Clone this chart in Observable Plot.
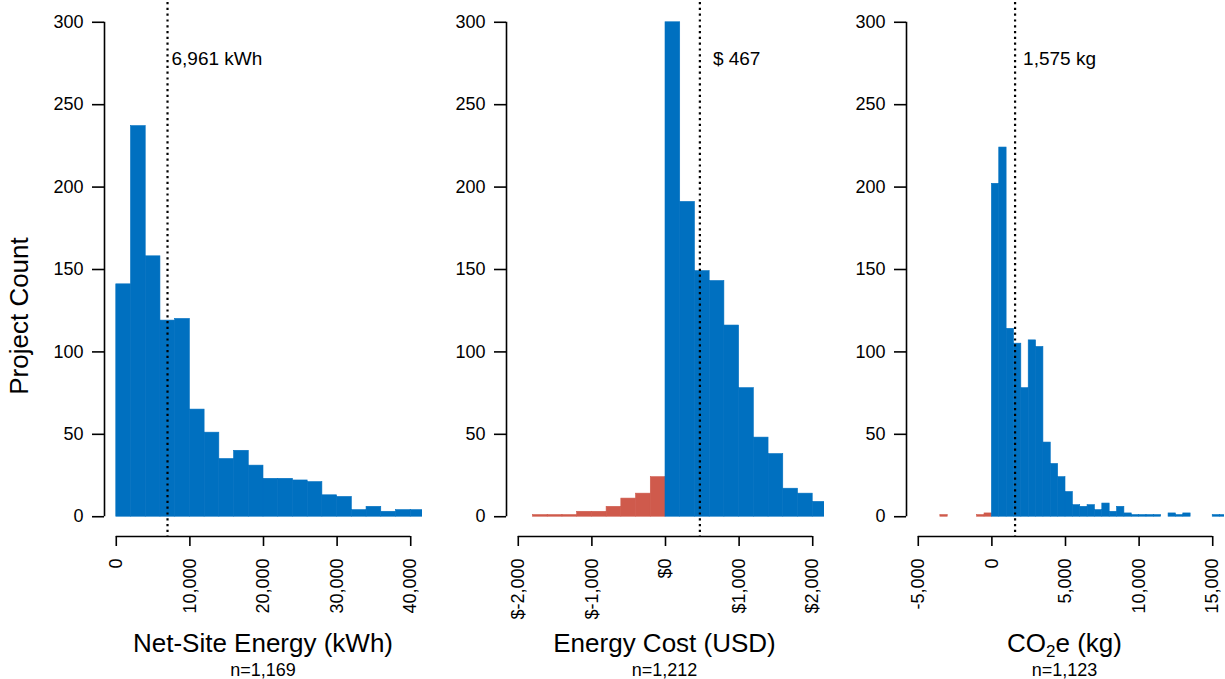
<!DOCTYPE html>
<html>
<head>
<meta charset="utf-8">
<script src="https://cdn.jsdelivr.net/npm/d3@7"></script>
<script src="https://cdn.jsdelivr.net/npm/@observablehq/plot@0.6"></script>
<style>
  html, body { margin: 0; padding: 0; background: #fff; }
  body { font-family: "Liberation Sans", Arial, sans-serif; color: #000; }
  #wrap { position: relative; width: 1225px; height: 679px; overflow: hidden; }
  .panel { position: absolute; top: 0; }
  .panel svg { overflow: visible; }
  .xt { position: absolute; width: 318px; text-align: center; font-size: 26px; line-height: 26px; white-space: nowrap; }
  .nt { position: absolute; width: 318px; text-align: center; font-size: 18px; line-height: 18px; white-space: nowrap; }
  .xt sub { font-size: 17px; vertical-align: -5px; line-height: 0; }
  #ylab { position: absolute; left: 19px; top: 316px; font-size: 26px; line-height: 26px; white-space: nowrap;
          transform: translate(-50%, -50%) rotate(-90deg); }
</style>
</head>
<body>
<div id="wrap"></div>
<script>
// ---------- data ----------
const yTicks = [0, 50, 100, 150, 200, 250, 300];
const yLim = [0, 300];

// Panel 1: Net-Site Energy (kWh), bins of 2,000
const energyBinStarts = [0, 2000, 4000, 6000, 8000, 10000, 12000, 14000, 16000, 18000, 20000,
                         22000, 24000, 26000, 28000, 30000, 32000, 34000, 36000, 38000, 40000];
const energyCounts    = [141, 237, 158, 119, 120, 65, 51, 35, 40, 31, 23,
                         23, 22, 21, 13, 12, 4, 6, 3, 4, 4];
const energyBinWidth = 2000;
const energyTicks = [0, 10000, 20000, 30000, 40000];
const energyLim = [0, 40000];
const energyMean = 6961;
const energyMeanLabel = "6,961 kWh";

// Panel 2: Energy Cost (USD), bins of $200
const costBinStarts = [-1800, -1600, -1400, -1200, -1000, -800, -600, -400, -200,
                       0, 200, 400, 600, 800, 1000, 1200, 1400, 1600, 1800, 2000];
const costCounts    = [1, 1, 1, 3, 3, 6, 11, 14, 24,
                       300, 191, 149, 143, 116, 78, 48, 38, 17, 14, 9];
const costBinWidth = 200;
const costTicks = [-2000, -1000, 0, 1000, 2000];
const costLim = [-2000, 2000];
const costMean = 467;
const costMeanLabel = "$ 467";

// Panel 3: CO2e (kg), bins of 500
const co2BinStarts = [-3500, -1000, -500,
                      0, 500, 1000, 1500, 2000, 2500, 3000, 3500, 4000, 4500, 5000, 5500, 6000, 6500,
                      7000, 7500, 8000, 8500, 9000, 9500, 10000, 10500, 11000, 12000, 12500, 13000, 15000, 15500];
const co2Counts    = [1, 1, 2,
                      202, 224, 114, 105, 78, 107, 103, 45, 32, 24, 15, 7, 6, 7,
                      4, 8, 3, 6, 2, 1, 1, 1, 1, 2, 1, 2, 1, 1];
const co2BinWidth = 500;
const co2Ticks = [-5000, 0, 5000, 10000, 15000];
const co2Lim = [-5000, 15000];
const co2Mean = 1575;
const co2MeanLabel = "1,575 kg";

const panelTitles = ["Net-Site Energy (kWh)", "Energy Cost (USD)", "CO<sub>2</sub>e (kg)"];
const panelN = ["n=1,169", "n=1,212", "n=1,123"];

// ---------- styling ----------
const BLUE = "#0070C0";
const RED = "#CF5A4C";
const PANEL_LEFT = [0, 401.5, 801.5];
const MARGIN_LEFT = 104, FRAME_W = 318, FRAME_TOP = 2, FRAME_BOTTOM = 536, SVG_H = 625;

const numFmt = d3.formatLocale({decimal: ".", thousands: ",", grouping: [3], currency: ["$", ""], minus: "-"});
const commaFmt = numFmt.format(",");
const dollarFmt = v => "$" + (v < 0 ? "-" : "") + commaFmt(Math.abs(v));

function expand(lim) { const p = 0.04 * (lim[1] - lim[0]); return [lim[0] - p, lim[1] + p]; }

function panel({starts, counts, binWidth, ticks, lim, mean, meanLabel, labelDx, fmt}) {
  const bins = starts.map((s, i) => ({x1: s, x2: s + binWidth, count: counts[i]}));
  const xDom = expand(lim);
  const yDom = expand(yLim);
  return Plot.plot({
    width: MARGIN_LEFT + FRAME_W + 1,
    height: SVG_H,
    marginLeft: MARGIN_LEFT,
    marginRight: 1,
    marginTop: FRAME_TOP,
    marginBottom: SVG_H - FRAME_BOTTOM,
    x: {domain: xDom},
    y: {domain: yDom},
    style: {background: "transparent", color: "#000", fontFamily: "'Liberation Sans', Arial, sans-serif", fontSize: "18px", overflow: "visible"},
    marks: [
      Plot.rect(bins.filter(d => d.x1 < 0), {x1: "x1", x2: "x2", y1: 0, y2: "count", fill: RED, stroke: RED, strokeWidth: 0.6, clip: true}),
      Plot.rect(bins.filter(d => d.x1 >= 0), {x1: "x1", x2: "x2", y1: 0, y2: "count", fill: BLUE, stroke: BLUE, strokeWidth: 0.6, clip: true}),
      Plot.ruleX([mean], {stroke: "#000", strokeWidth: 2.2, strokeDasharray: "2.2,3.6"}),
      Plot.text([mean], {x: d => d, y: 278, text: () => meanLabel, textAnchor: "start", dx: labelDx, fontSize: 19, fill: "#000"}),
      // y axis
      Plot.ruleX([xDom[0]], {y1: yTicks[0], y2: yTicks[yTicks.length - 1], stroke: "#000", strokeWidth: 1.6}),
      Plot.axisY({ticks: yTicks, tickSize: 12, tickPadding: 9, fontSize: 18, strokeWidth: 1.6, label: null, tickFormat: d => String(d)}),
      // x axis
      Plot.ruleY([yDom[0]], {x1: ticks[0], x2: ticks[ticks.length - 1], stroke: "#000", strokeWidth: 1.6}),
      Plot.axisX({ticks: ticks, tickSize: 10, tickPadding: 12, tickRotate: -90, fontSize: 18, strokeWidth: 1.6, label: null, tickFormat: fmt})
    ]
  });
}

const wrap = document.getElementById("wrap");
const configs = [
  {starts: energyBinStarts, counts: energyCounts, binWidth: energyBinWidth, ticks: energyTicks, lim: energyLim, mean: energyMean, meanLabel: energyMeanLabel, labelDx: 4, fmt: commaFmt},
  {starts: costBinStarts, counts: costCounts, binWidth: costBinWidth, ticks: costTicks, lim: costLim, mean: costMean, meanLabel: costMeanLabel, labelDx: 13, fmt: dollarFmt},
  {starts: co2BinStarts, counts: co2Counts, binWidth: co2BinWidth, ticks: co2Ticks, lim: co2Lim, mean: co2Mean, meanLabel: co2MeanLabel, labelDx: 8, fmt: commaFmt}
];

configs.forEach((cfg, i) => {
  const div = document.createElement("div");
  div.className = "panel";
  div.style.left = PANEL_LEFT[i] + "px";
  div.appendChild(panel(cfg));
  wrap.appendChild(div);

  const t = document.createElement("div");
  t.className = "xt";
  t.style.left = (PANEL_LEFT[i] + MARGIN_LEFT) + "px";
  t.style.top = "630px";
  t.innerHTML = panelTitles[i];
  wrap.appendChild(t);

  const n = document.createElement("div");
  n.className = "nt";
  n.style.left = (PANEL_LEFT[i] + MARGIN_LEFT) + "px";
  n.style.top = "661px";
  n.textContent = panelN[i];
  wrap.appendChild(n);
});

const yl = document.createElement("div");
yl.id = "ylab";
yl.textContent = "Project Count";
wrap.appendChild(yl);
</script>
</body>
</html>
